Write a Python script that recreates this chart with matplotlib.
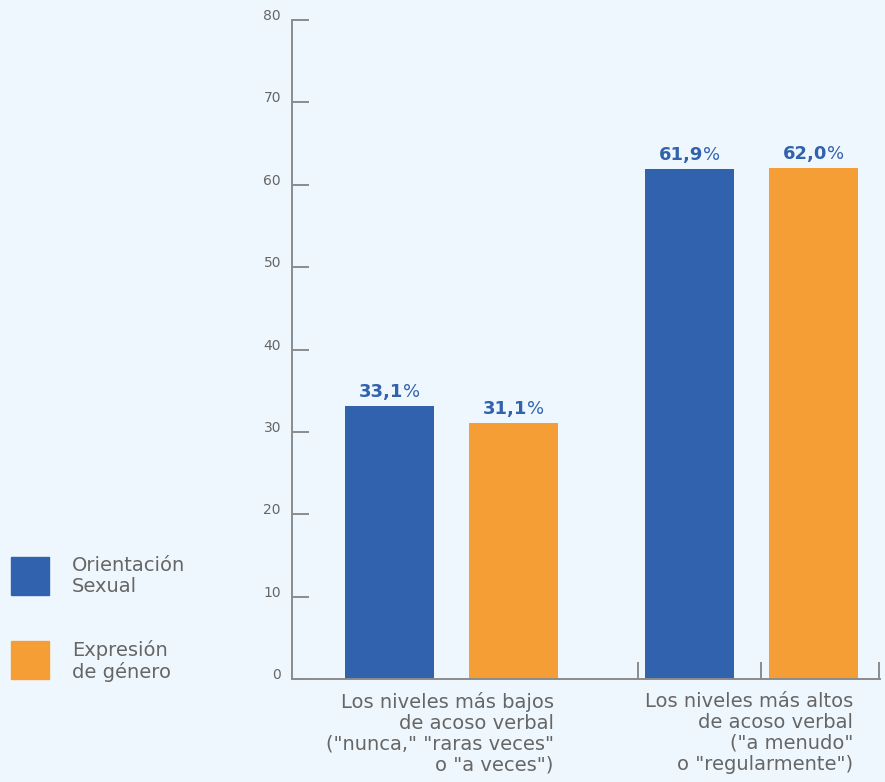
import matplotlib
matplotlib.use("Agg")
import matplotlib.pyplot as plt
from matplotlib.patches import Rectangle
import numpy as np

categories = ['Los niveles más bajos\nde acoso verbal\n("nunca," "raras veces"\no "a veces")',
              'Los niveles más altos\nde acoso verbal\n("a menudo"\no "regularmente")']
series_names = ["Orientación\nSexual", "Expresión\nde género"]
orientacion = [33.1, 61.9]
expresion = [31.1, 62.0]
yticks = [0, 10, 20, 30, 40, 50, 60, 70, 80]

blue = "#3162ae"
orange = "#f59e35"
bg = "#eff7fe"
grey_txt = "#666666"
grey_line = "#8c8c8c"
font = "DejaVu Sans"

fig = plt.figure(figsize=(8.85, 7.82), dpi=100, facecolor=bg)
ax = fig.add_axes([0.330, 0.1317, 0.664, 0.8427])
ax.set_facecolor(bg)

x = np.arange(len(categories))
width = 0.297
off = 0.207
b1 = ax.bar(x - off, orientacion, width, color=blue)
b2 = ax.bar(x + off, expresion, width, color=orange)

ax.set_xlim(-0.532, 1.428)
ax.set_ylim(0, 80)
for s in ["top", "right"]:
    ax.spines[s].set_visible(False)
for s in ["left", "bottom"]:
    ax.spines[s].set_color(grey_line)
    ax.spines[s].set_linewidth(1.4)

ax.set_yticks(yticks)
ax.set_yticklabels([str(v) for v in yticks], fontsize=10, color=grey_txt, family=font)
for lab in ax.get_yticklabels():
    lab.set_verticalalignment("baseline")
ax.tick_params(axis="y", direction="in", length=12, width=1.4, color=grey_line, pad=8)

# small upward ticks on the baseline
ax.set_xticks([0.622, 1.032, 1.425])
ax.tick_params(axis="x", direction="in", length=12, width=1.4, color=grey_line, labelbottom=False)

# category labels, right-aligned at right edge of the orange bar
for xi, cat in zip(x, categories):
    ax.text(xi + off + width / 2 - 0.015, -1.6, cat, ha="right", va="top", fontsize=14,
            color=grey_txt, family=font, linespacing=1.12)

# value labels: bold number + light percent sign
fig.canvas.draw()
r = fig.canvas.get_renderer()
for bars, vals in [(b1, orientacion), (b2, expresion)]:
    for bar, v in zip(bars, vals):
        cx = bar.get_x() + bar.get_width() / 2
        cy = v + 1.1
        num = ax.text(cx, cy, f"{v:.1f}".replace(".", ","), ha="left", va="baseline",
                      fontsize=13, fontweight="bold", color=blue, family=font)
        pct = ax.text(cx, cy, "%", ha="left", va="baseline", fontsize=13,
                      color=blue, family=font)
        wn = num.get_window_extent(r).width
        wp = pct.get_window_extent(r).width
        inv = ax.transData.inverted()
        px0 = ax.transData.transform((cx, cy))[0] - (wn + wp) / 2
        num.set_x(inv.transform((px0, 0))[0])
        pct.set_x(inv.transform((px0 + wn, 0))[0])

# legend on the left
colors = [blue, orange]
tops = [557, 641]
H = 782.0
W = 885.0
for name, c, t in zip(series_names, colors, tops):
    fig.patches.append(Rectangle((11 / W, 1 - (t + 38) / H), 38 / W, 38 / H,
                                 transform=fig.transFigure, color=c))
    fig.text(72 / W, 1 - (t - 1) / H, name, ha="left", va="top", fontsize=14,
             color=grey_txt, family=font, linespacing=1.12)

fig.savefig("out.png", dpi=100, facecolor=bg)
